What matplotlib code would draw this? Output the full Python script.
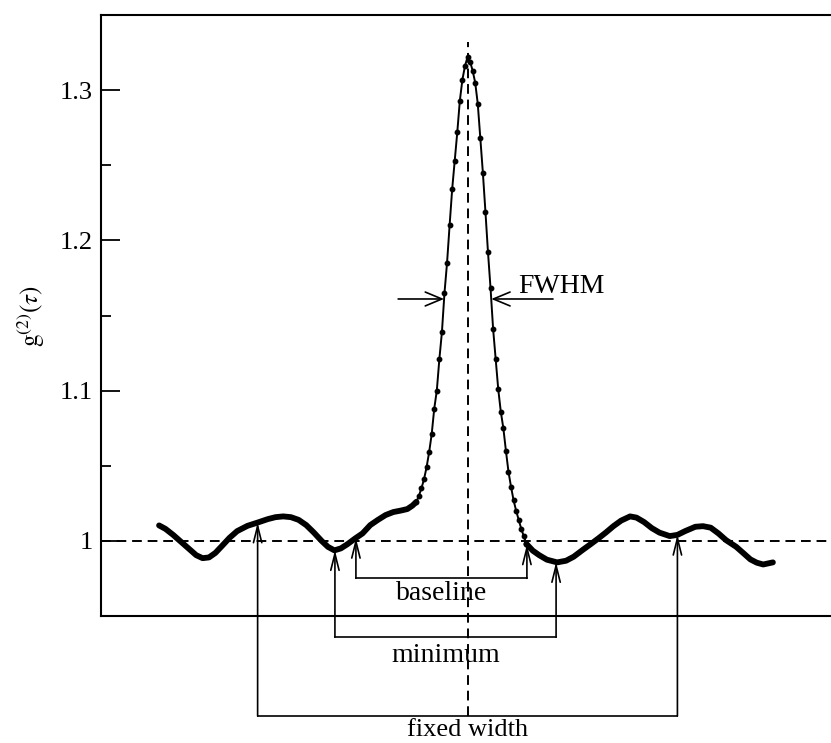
import numpy as np
import matplotlib.pyplot as plt

plt.rcParams['font.family'] = ['Liberation Serif', 'DejaVu Serif']
plt.rcParams['mathtext.fontset'] = 'stix'

# g2(tau) wings, tau in ns (thick line)
tau_left = [-12.05, -11.8, -11.5, -11.2, -10.9, -10.6, -10.35, -10.1, -9.85, -9.6,
            -9.3, -9.0, -8.6, -8.2, -7.8, -7.5, -7.2, -6.9, -6.6, -6.3,
            -6.0, -5.7, -5.45, -5.2, -4.95, -4.7, -4.4, -4.1, -3.8, -3.5,
            -3.2, -2.9, -2.6, -2.35, -2.15, -2.0]
g_left = [1.0103, 1.0080, 1.0040, 0.9995, 0.9950, 0.9905, 0.9885, 0.9890, 0.9920, 0.9965,
          1.0020, 1.0065, 1.0100, 1.0122, 1.0145, 1.0158, 1.0163, 1.0158, 1.0140, 1.0105,
          1.0055, 1.0000, 0.9960, 0.9937, 0.9950, 0.9977, 1.0015, 1.0050, 1.0105, 1.0140,
          1.0172, 1.0192, 1.0202, 1.0212, 1.0235, 1.0260]

tau_right = [2.3, 2.55, 2.8, 3.1, 3.5, 3.85, 4.15, 4.5, 4.8, 5.1,
             5.4, 5.7, 6.0, 6.35, 6.6, 6.9, 7.2, 7.5, 7.9, 8.2,
             8.5, 8.9, 9.2, 9.5, 9.8, 10.1, 10.5, 10.8, 11.05, 11.3,
             11.55, 11.93]
g_right = [0.9980, 0.9935, 0.9905, 0.9875, 0.9857, 0.9868, 0.9895, 0.9940, 0.9977, 1.0015,
           1.0055, 1.0098, 1.0135, 1.0163, 1.0155, 1.0125, 1.0085, 1.0055, 1.0032, 1.0040,
           1.0065, 1.0094, 1.0098, 1.0088, 1.0050, 1.0005, 0.9960, 0.9915, 0.9877, 0.9855,
           0.9843, 0.9857]

# central peak, measured points every 0.1 ns
tau_peak = [-2.0, -1.9, -1.8, -1.7, -1.6, -1.5, -1.4, -1.3, -1.2, -1.1,
            -1.0, -0.9, -0.8, -0.7, -0.6, -0.5, -0.4, -0.3, -0.2, -0.1,
            0.0, 0.1, 0.2, 0.3, 0.4, 0.5, 0.6, 0.7, 0.8, 0.9,
            1.0, 1.1, 1.2, 1.3, 1.4, 1.5, 1.6, 1.7, 1.8, 1.9,
            2.0, 2.1, 2.2, 2.3]
g_peak = [1.026, 1.030, 1.035, 1.041, 1.049, 1.059, 1.071, 1.088, 1.100, 1.121,
          1.139, 1.165, 1.185, 1.210, 1.234, 1.253, 1.272, 1.293, 1.307, 1.316,
          1.322, 1.319, 1.313, 1.305, 1.291, 1.268, 1.245, 1.219, 1.192, 1.168,
          1.141, 1.121, 1.101, 1.086, 1.075, 1.060, 1.046, 1.036, 1.027, 1.020,
          1.014, 1.008, 1.003, 0.998]

# bracket end points (tau) and bar heights for the width definitions
baseline_tau = [-4.36, 2.32]
minimum_tau = [-5.18, 3.46]
fixed_tau = [-8.2, 8.2]
baseline_bar = 0.9751
minimum_bar = 0.9359
fixed_bar = 0.8834

tau_all = np.array(tau_left + tau_peak[1:] + tau_right[1:])
g_all = np.array(g_left + g_peak[1:] + g_right[1:])

fig = plt.figure(figsize=(8.31, 7.43), dpi=100)
ax = fig.add_axes([0.1215, 0.1709, 0.8785, 0.8089])

ax.plot(tau_left, g_left, color='k', lw=4.2, solid_capstyle='round', solid_joinstyle='round')
ax.plot(tau_right, g_right, color='k', lw=4.2, solid_capstyle='round', solid_joinstyle='round')
ax.plot(tau_peak, g_peak, color='k', lw=1.4, marker='o', ms=3.2)

# reference lines
dash = (0, (5, 3))
ax.axhline(1.0, color='k', lw=1.4, ls=dash)
ax.plot([0, 0], [fixed_bar, 1.332], color='k', lw=1.4, ls=dash, clip_on=False)


def bracket(taus, bar, label, text_y, size=20):
    tips = np.interp(taus, tau_all, g_all)
    ax.plot(taus, [bar, bar], color='k', lw=1.2, clip_on=False)
    for t, tip in zip(taus, tips):
        ax.annotate('', xy=(t, tip), xytext=(t, bar), annotation_clip=False,
                    arrowprops=dict(arrowstyle='->, head_length=0.6, head_width=0.15',
                                    lw=1.2, color='k', shrinkA=0, shrinkB=0,
                                    mutation_scale=20))
    ax.text(np.mean(taus), text_y, label, ha='center', va='baseline', fontsize=size,
            clip_on=False)


bracket(baseline_tau, baseline_bar, 'baseline', 0.9605)
bracket(minimum_tau, minimum_bar, 'minimum', 0.9196)
bracket(fixed_tau, fixed_bar, 'fixed width', 0.8704, size=19)

# FWHM arrows at half maximum
g_arr = np.array(g_peak)
t_arr = np.array(tau_peak)
imax = int(np.argmax(g_arr))
half = 1 + (g_arr[imax] - 1) / 2
t_lo = np.interp(half, g_arr[:imax + 1], t_arr[:imax + 1])
t_hi = np.interp(half, g_arr[imax:][::-1], t_arr[imax:][::-1])
fwhm_style = dict(arrowstyle='->, head_length=0.6, head_width=0.25', lw=1.2, color='k',
                  shrinkA=0, shrinkB=0, mutation_scale=20)
ax.annotate('', xy=(t_lo, half), xytext=(-2.71, half), arrowprops=fwhm_style)
ax.annotate('', xy=(t_hi, half), xytext=(3.34, half), arrowprops=fwhm_style)
ax.text(1.97, 1.1651, 'FWHM', ha='left', va='baseline', fontsize=20)

ax.set_xlim(-14.32, 14.2)
ax.set_ylim(0.95, 1.35)
ax.set_xticks([])
ax.set_yticks([1.0, 1.1, 1.2, 1.3], ['1', '1.1', '1.2', '1.3'])
ax.set_yticks([1.05, 1.15, 1.25], minor=True)
ax.tick_params(axis='y', which='major', direction='in', length=13.5, width=1.3,
               labelsize=19, pad=6)
ax.tick_params(axis='y', which='minor', direction='in', length=7, width=1.3)
ax.spines['right'].set_visible(False)
for s in ['left', 'top', 'bottom']:
    ax.spines[s].set_linewidth(1.5)

ax.set_ylabel(r'$\mathrm{g}^{(2)}(\tau)$', fontsize=18)
ax.yaxis.set_label_coords(-0.074, 0.5)

plt.savefig('out.png', dpi=100)
